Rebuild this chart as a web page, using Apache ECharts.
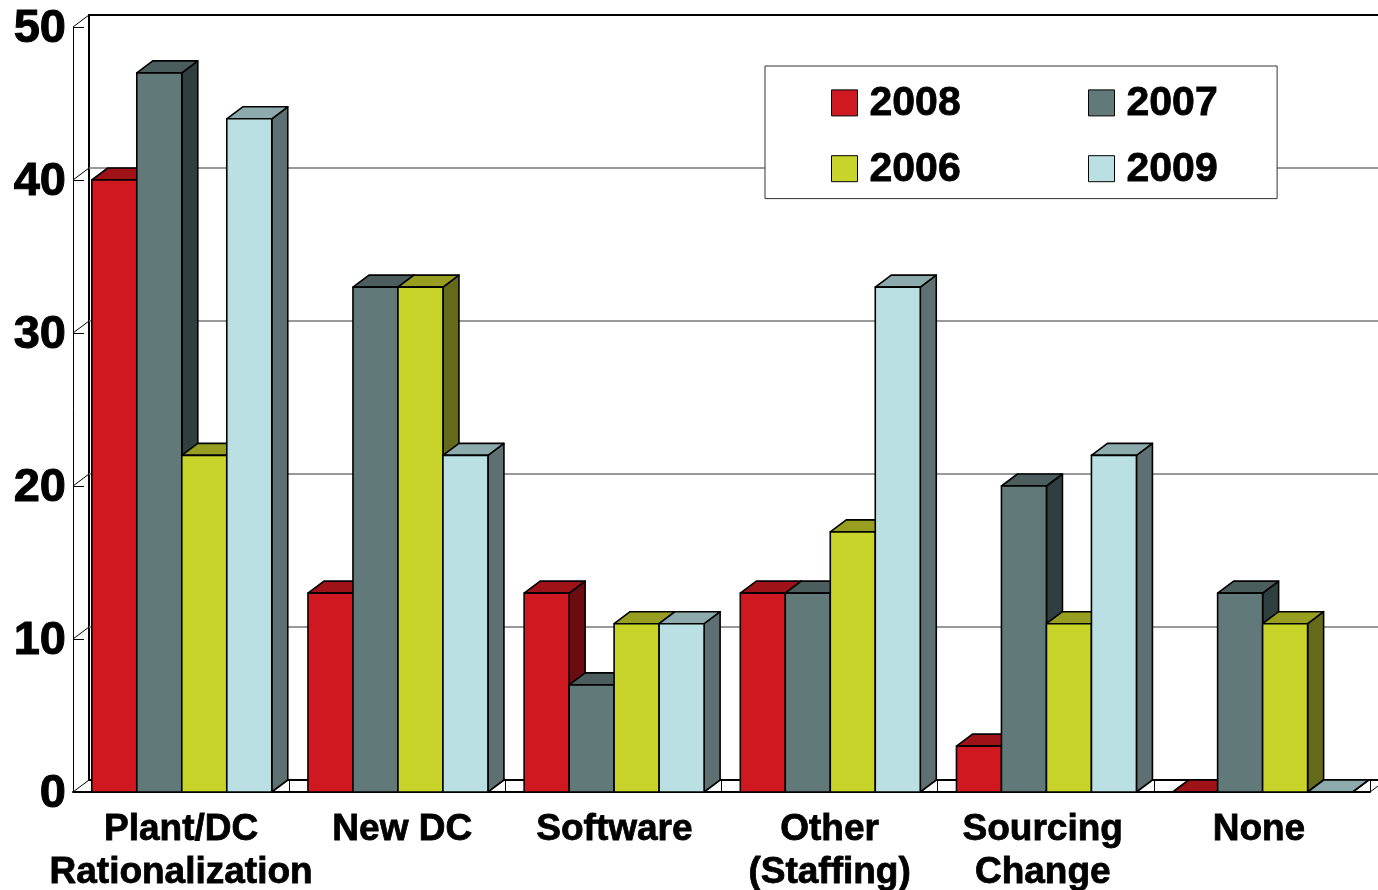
<!DOCTYPE html>
<html>
<head>
<meta charset="utf-8">
<style>html,body{margin:0;padding:0;background:#fff}#c{width:1378px;height:890px}</style>
<script src="https://cdn.jsdelivr.net/npm/echarts@6/dist/echarts.min.js"></script>
</head>
<body>
<div id="c"></div>
<script>
const categories = ['Plant/DC\nRationalization', 'New DC', 'Software', 'Other\n(Staffing)', 'Sourcing\nChange', 'None'];
const yTicks = [0, 10, 20, 30, 40, 50];
const v2008 = [40, 13, 13, 13, 3, 0];
const v2007 = [47, 33, 7, 13, 20, 13];
const v2006 = [22, 33, 11, 17, 11, 11];
const v2009 = [44, 22, 11, 33, 22, 0];
const seriesNames = ['2008', '2007', '2006', '2009'];
const seriesValues = [v2008, v2007, v2006, v2009];
const frontColors = ['#CF1820', '#627979', '#C9D42A', '#BAE0E3'];
const topColors = ['#9E1218', '#4B5D5D', '#989F20', '#8DAAAD'];
const sideColors = ['#6B0C10', '#2F3F3F', '#65691A', '#5E7072'];

const DX = 16, DY = 12;
const FONT = '"Liberation Sans", Arial, sans-serif';
/* left / right label padding that nudges individual category labels */
const labelPad = [[0, 0], [10, 0], [2, 0], [0, 0], [0, 6], [0, 6]];
const chart = echarts.init(document.getElementById('c'), null, {renderer: 'canvas'});

function barRenderer(idx) {
  return function (params, api) {
    const c = api.coord([api.value(0), api.value(1)]);
    const b = api.coord([api.value(0), 0]);
    const band = api.size([1, 0])[0];
    const bw = band * 45 / 216.2;
    const x0 = c[0] + 0.7 + (idx - 2) * bw;
    const x1 = x0 + bw;
    const yT = c[1], yB = b[1];
    const stroke = {stroke: '#000', lineWidth: 1.6, lineJoin: 'round'};
    return {
      type: 'group',
      children: [
        {type: 'polygon', shape: {points: [[x1, yT], [x1 + DX, yT - DY], [x1 + DX, yB - DY], [x1, yB]]},
          style: Object.assign({fill: sideColors[idx]}, stroke)},
        {type: 'polygon', shape: {points: [[x0, yT], [x0 + DX, yT - DY], [x1 + DX, yT - DY], [x1, yT]]},
          style: Object.assign({fill: topColors[idx]}, stroke)},
        {type: 'rect', shape: {x: x0, y: yT, width: bw, height: yB - yT},
          style: Object.assign({fill: frontColors[idx]}, stroke)}
      ]
    };
  };
}

function depthRenderer(params, api) {
  const v = api.value(0);
  const band = api.size([1, 0])[0];
  const p = api.coord([0, v]);
  const left = p[0] - band / 2;
  const kids = [{type: 'line', shape: {x1: left, y1: p[1], x2: left + DX, y2: p[1] - DY},
    style: {stroke: '#000', lineWidth: 1}}];
  if (v === 0) {
    const r = api.coord([categories.length - 1, 0])[0] + band / 2;
    kids.push({type: 'line', shape: {x1: r, y1: p[1], x2: r + DX, y2: p[1] - DY},
      style: {stroke: '#000', lineWidth: 1}});
  }
  return {type: 'group', children: kids};
}

const legendText = {
  color: '#000', fontFamily: FONT, fontWeight: 'bold', fontSize: 41,
  rich: {a: {color: '#000', fontFamily: FONT, fontWeight: 'bold', fontSize: 41, padding: [2, 0, 0, 7],
    textBorderColor: '#000', textBorderWidth: 0.8}}
};
const legendCommon = {
  orient: 'vertical', icon: 'rect', itemWidth: 26, itemHeight: 26, itemGap: 24, selectedMode: false,
  formatter: '{a|{name}}',
  itemStyle: {borderColor: '#000', borderWidth: 1}, textStyle: legendText
};

chart.setOption({
  animation: false,
  backgroundColor: '#fff',
  tooltip: {show: false},
  grid: [
    {left: 73, top: 27, width: 1297, height: 765, containLabel: false, outerBoundsMode: 'none'},
    {left: 89, top: 15, width: 1297, height: 765, outerBoundsMode: 'none', show: true, borderColor: '#000', borderWidth: 2, backgroundColor: 'transparent'}
  ],
  xAxis: [
    {type: 'category', gridIndex: 0, boundaryGap: true,
      data: categories.map(function (c, i) {
        return {value: c, textStyle: {padding: [0, labelPad[i][1], 0, labelPad[i][0]]}};
      }),
      axisLine: {show: true, onZero: false, lineStyle: {color: '#000', width: 2}},
      axisTick: {show: true, inside: true, length: 12, alignWithLabel: false, lineStyle: {color: '#000', width: 1}},
      axisLabel: {interval: 0, color: '#000', fontFamily: FONT, fontWeight: 'bold', fontSize: 37, lineHeight: 43, margin: 16,
        textBorderColor: '#000', textBorderWidth: 0.8},
      splitLine: {show: false}},
    {type: 'category', gridIndex: 1, data: categories, show: false}
  ],
  yAxis: [
    {type: 'value', gridIndex: 0, min: 0, max: 50, interval: 10,
      axisLine: {show: true, lineStyle: {color: '#000', width: 1}},
      axisTick: {show: true, inside: true, length: 11, lineStyle: {color: '#000', width: 1}},
      axisLabel: {color: '#000', fontFamily: FONT, fontWeight: 'bold', fontSize: 47, margin: 7,
        rich: {a: {color: '#000', fontFamily: FONT, fontWeight: 'bold', fontSize: 47, padding: [5, 0, 0, 0],
          textBorderColor: '#000', textBorderWidth: 1}},
        formatter: function (v) { return yTicks.indexOf(v) >= 0 ? '{a|' + v + '}' : ''; }},
      splitLine: {show: false}},
    {type: 'value', gridIndex: 1, min: 0, max: 50, interval: 10,
      axisLine: {show: false}, axisTick: {show: false}, axisLabel: {show: false},
      splitLine: {show: true, showMinLine: false, showMaxLine: false, lineStyle: {color: '#777', width: 1.5}}}
  ],
  legend: [
    Object.assign({}, legendCommon, {
      data: ['2008', '2006'], left: 765, top: 66, padding: [17, 316, 8, 66],
      backgroundColor: '#fff', borderColor: '#333', borderWidth: 1, z: 5
    }),
    Object.assign({}, legendCommon, {
      data: ['2007', '2009'], left: 1088, top: 83, padding: 0, z: 6
    })
  ],
  series: [
    {type: 'custom', name: 'depth', xAxisIndex: 0, yAxisIndex: 0, z: 1, silent: true,
      encode: {y: 0}, renderItem: depthRenderer, data: yTicks.map(function (v) { return [v]; })}
  ].concat(seriesNames.map(function (name, idx) {
    return {
      type: 'custom', name: name, xAxisIndex: 0, yAxisIndex: 0, z: 2 + idx, silent: true, clip: false,
      itemStyle: {color: frontColors[idx]},
      encode: {x: 0, y: 1},
      renderItem: barRenderer(idx),
      data: seriesValues[idx].map(function (v, i) { return [i, v]; })
    };
  }))
});
</script>
</body>
</html>
